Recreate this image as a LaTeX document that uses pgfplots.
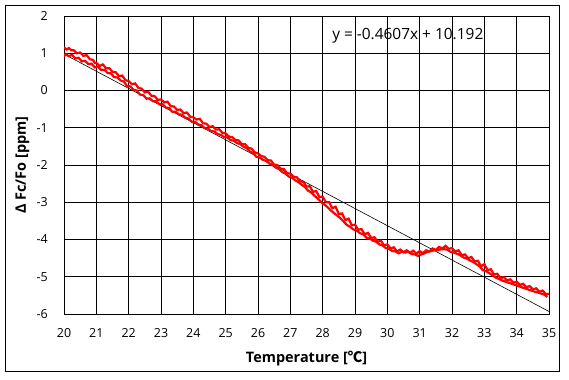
\documentclass[border=0pt]{standalone}
\usepackage{pgfplots}
\pgfplotsset{compat=1.18}
\usepackage{fontspec}
\setmainfont{Open Sans}
\newfontfamily\cjk{Noto Sans CJK KR}
\definecolor{dred}{RGB}{255,0,0}
\begin{document}
\begin{tikzpicture}[x=1bp,y=1bp]
\path[fill=white] (0,0) rectangle (569,379);
\draw[black, line width=1bp] (5.5,7.5) rectangle (559.5,373.5);
\begin{axis}[at={(64bp,65bp)}, anchor=south west, scale only axis,
  width=485bp, height=298bp,
  xmin=20, xmax=35, ymin=-6, ymax=2,
  xtick={20,21,...,35}, ytick={-6,-5,...,2},
  grid=major, major grid style={black, line width=0.8bp},
  axis line style={black, line width=0.9bp},
  tick style={draw=none}, major tick length=0pt,
  /pgf/number format/assume math mode=true,
  tick label style={font=\fontsize{12.5}{14}\selectfont, inner sep=0pt},
  xticklabel style={anchor=north, yshift=-14bp},
  yticklabel style={anchor=east, xshift=-16bp},
  xlabel={Temperature [{\cjk\bfseries ℃}]},
  ylabel={Δ Fc/Fo [ppm]},
  label style={font=\bfseries\fontsize{14.5}{16}\selectfont, inner sep=0pt},
  xlabel style={at={(axis description cs:0.5,-0.1644)}, anchor=base},
  ylabel style={at={(axis description cs:-0.0784,0.5)}, anchor=base},
  clip=true]
\addplot[black, line width=0.6bp, no marks] coordinates {(20,0.978) (35,-5.9325)};
\addplot[dred, line width=2.2bp, no marks, line join=miter] coordinates {
(20.0,1.16) (20.08,1.10) (20.15,1.14) (20.22,1.08) (20.3,1.08) (20.4,1.00)
(20.5,1.02) (20.6,0.93) (20.7,0.95) (20.8,0.84) (20.9,0.82) (20.95,0.74)
(21.0,0.74) (21.1,0.66) (21.2,0.70) (21.3,0.60) (21.4,0.60) (21.5,0.50)
(21.6,0.49) (21.7,0.39) (21.8,0.40) (21.9,0.28) (22.0,0.25) (22.1,0.17)
(22.2,0.19) (22.3,0.07) (22.4,0.05) (22.5,-0.05) (22.6,-0.03) (22.7,-0.14)
(22.8,-0.15) (22.9,-0.25) (23.0,-0.24) (23.1,-0.32) (23.2,-0.30) (23.3,-0.42)
(23.4,-0.43) (23.5,-0.52) (23.6,-0.51) (23.7,-0.61) (23.8,-0.59) (23.9,-0.70)
(24.0,-0.72) (24.1,-0.78) (24.2,-0.76) (24.3,-0.88) (24.4,-0.89) (24.5,-0.98)
(24.6,-0.96) (24.7,-1.05) (24.8,-1.04) (24.9,-1.14) (25.0,-1.15) (25.1,-1.24)
(25.2,-1.25) (25.3,-1.33) (25.4,-1.34) (25.5,-1.44) (25.6,-1.44) (25.7,-1.54)
(25.8,-1.56) (25.9,-1.66) (26.0,-1.69) (26.1,-1.76) (26.2,-1.78) (26.3,-1.87)
(26.4,-1.88) (26.5,-1.99) (26.6,-2.00) (26.7,-2.10) (26.8,-2.11) (26.9,-2.22)
(27.0,-2.23) (27.1,-2.32) (27.2,-2.33) (27.3,-2.44) (27.4,-2.45) (27.5,-2.58)
(27.6,-2.57) (27.7,-2.72) (27.8,-2.70) (27.9,-2.86) (28.0,-2.85) (28.1,-3.00)
(28.2,-3.00) (28.3,-3.16) (28.4,-3.12) (28.5,-3.32) (28.6,-3.30) (28.7,-3.48)
(28.8,-3.44) (28.9,-3.62) (29.0,-3.60) (29.1,-3.74) (29.2,-3.72) (29.3,-3.86)
(29.4,-3.82) (29.5,-3.96) (29.6,-3.94) (29.7,-4.06) (29.8,-4.03) (29.9,-4.16)
(30.0,-4.13) (30.1,-4.24) (30.2,-4.21) (30.3,-4.32) (30.4,-4.27) (30.5,-4.34)
(30.6,-4.29) (30.7,-4.36) (30.8,-4.30) (30.9,-4.38) (31.0,-4.31) (31.1,-4.37)
(31.2,-4.29) (31.3,-4.32) (31.4,-4.24) (31.5,-4.28) (31.6,-4.20) (31.7,-4.24)
(31.8,-4.17) (31.9,-4.25) (32.0,-4.23) (32.1,-4.32) (32.2,-4.29) (32.3,-4.42)
(32.4,-4.40) (32.5,-4.50) (32.6,-4.47) (32.7,-4.59) (32.8,-4.57) (32.9,-4.72)
(33.0,-4.66) (33.1,-4.82) (33.2,-4.80) (33.3,-4.94) (33.4,-4.92) (33.5,-5.04)
(33.6,-5.01) (33.7,-5.10) (33.8,-5.07) (33.9,-5.16) (34.0,-5.13) (34.1,-5.22)
(34.2,-5.19) (34.3,-5.28) (34.4,-5.25) (34.5,-5.34) (34.6,-5.31) (34.7,-5.40)
(34.8,-5.37) (34.9,-5.46) (35.0,-5.46)
};
\addplot[dred, line width=2.2bp, no marks, line join=miter] coordinates {
(20.0,0.92) (20.05,0.98) (20.15,0.92) (20.25,0.96) (20.35,0.86) (20.45,0.88)
(20.55,0.78) (20.65,0.80) (20.75,0.71) (20.85,0.72) (20.95,0.62) (21.05,0.64)
(21.15,0.55) (21.25,0.56) (21.35,0.47) (21.45,0.46) (21.55,0.36) (21.65,0.35)
(21.75,0.27) (21.85,0.24) (21.95,0.12) (22.05,0.11) (22.15,0.02) (22.25,0.00)
(22.35,-0.11) (22.45,-0.12) (22.55,-0.22) (22.65,-0.21) (22.75,-0.29) (22.85,-0.29)
(22.95,-0.37) (23.05,-0.37) (23.15,-0.46) (23.25,-0.47) (23.35,-0.57) (23.45,-0.57)
(23.55,-0.64) (23.65,-0.65) (23.75,-0.73) (23.85,-0.75) (23.95,-0.84) (24.05,-0.84)
(24.15,-0.91) (24.25,-0.93) (24.35,-1.01) (24.45,-1.02) (24.55,-1.09) (24.65,-1.10)
(24.75,-1.17) (24.85,-1.19) (24.95,-1.25) (25.05,-1.26) (25.15,-1.33) (25.25,-1.35)
(25.35,-1.41) (25.45,-1.44) (25.55,-1.51) (25.65,-1.55) (25.75,-1.64) (25.85,-1.68)
(25.95,-1.78) (26.05,-1.80) (26.15,-1.86) (26.25,-1.89) (26.35,-1.96) (26.45,-2.00)
(26.55,-2.07) (26.65,-2.11) (26.75,-2.19) (26.85,-2.23) (26.95,-2.31) (27.05,-2.34)
(27.15,-2.41) (27.25,-2.46) (27.35,-2.53) (27.45,-2.59) (27.55,-2.69) (27.65,-2.74)
(27.75,-2.83) (27.85,-2.90) (27.95,-2.99) (28.05,-3.06) (28.15,-3.13) (28.25,-3.22)
(28.35,-3.29) (28.45,-3.36) (28.55,-3.43) (28.65,-3.52) (28.75,-3.61) (28.85,-3.66)
(28.95,-3.73) (29.05,-3.76) (29.15,-3.83) (29.25,-3.86) (29.35,-3.95) (29.45,-3.97)
(29.55,-4.03) (29.65,-4.06) (29.75,-4.13) (29.85,-4.16) (29.95,-4.23) (30.05,-4.25)
(30.15,-4.31) (30.25,-4.32) (30.35,-4.37) (30.45,-4.33) (30.55,-4.35) (30.65,-4.33)
(30.75,-4.39) (30.85,-4.40) (30.95,-4.44) (31.05,-4.40) (31.15,-4.37) (31.25,-4.33)
(31.35,-4.31) (31.45,-4.29) (31.55,-4.29) (31.65,-4.26) (31.75,-4.26) (31.85,-4.27)
(31.95,-4.33) (32.05,-4.35) (32.15,-4.38) (32.25,-4.42) (32.35,-4.48) (32.45,-4.51)
(32.55,-4.56) (32.65,-4.60) (32.75,-4.66) (32.85,-4.72) (32.95,-4.82) (33.05,-4.85)
(33.15,-4.90) (33.25,-4.96) (33.35,-5.02) (33.45,-5.06) (33.55,-5.10) (33.65,-5.13)
(33.75,-5.16) (33.85,-5.19) (33.95,-5.22) (34.05,-5.25) (34.15,-5.28) (34.25,-5.31)
(34.35,-5.34) (34.45,-5.37) (34.55,-5.40) (34.65,-5.42) (34.75,-5.45) (34.85,-5.48)
(34.95,-5.54)
};
\node[anchor=base west, font=\fontsize{15.5}{17}\selectfont, inner sep=0pt]
  at (axis cs:28.29,1.356) {y = -0.4607x + 10.192};
\end{axis}
\end{tikzpicture}
\end{document}
